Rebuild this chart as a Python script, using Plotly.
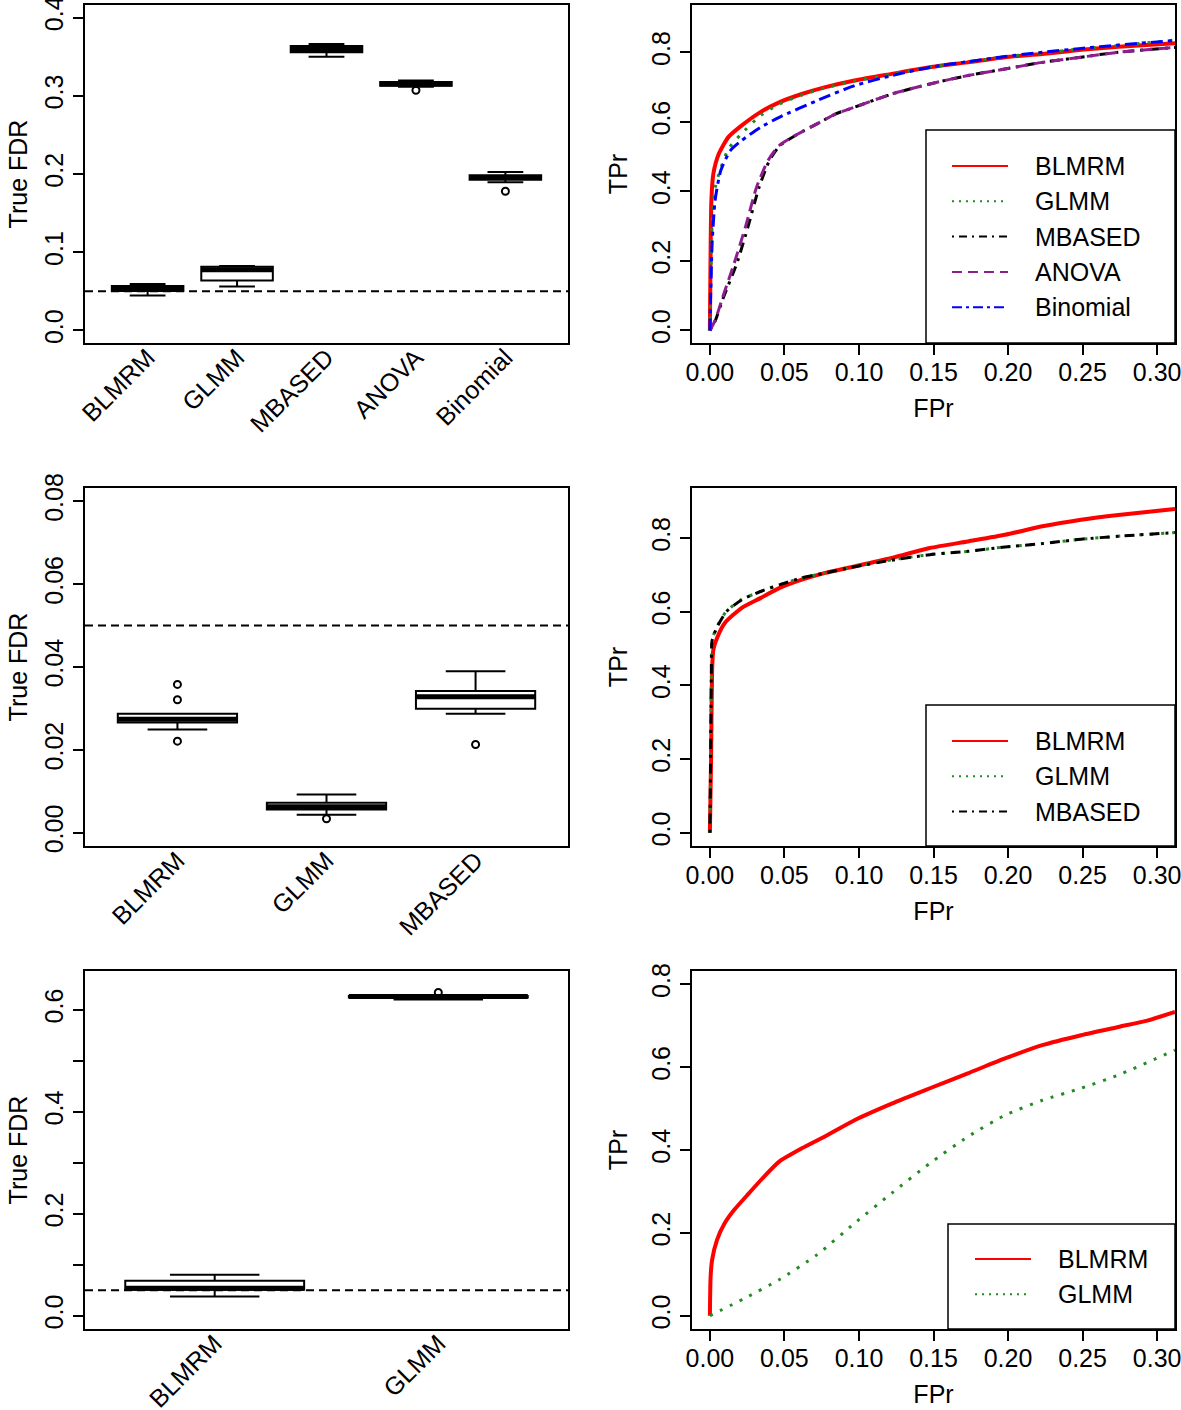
import plotly.graph_objects as go

W, H = 1181, 1410
FONT = "Liberation Sans, Arial, Helvetica, sans-serif"

# ---------------- data: box plots (True FDR) ----------------
methods1 = ["BLMRM", "GLMM", "MBASED", "ANOVA", "Binomial"]
lower1 = [0.0448, 0.0563, 0.3500, 0.3115, 0.1893]
q1_1 = [0.0505, 0.0640, 0.3555, 0.3128, 0.1925]
med1 = [0.0535, 0.0775, 0.3590, 0.3150, 0.1955]
q3_1 = [0.0570, 0.0815, 0.3635, 0.3175, 0.1985]
upper1 = [0.0595, 0.0825, 0.3660, 0.3195, 0.2026]
out1_m = ["ANOVA", "Binomial"]
out1_v = [0.307, 0.178]

methods2 = ["BLMRM", "GLMM", "MBASED"]
lower2 = [0.0249, 0.00434, 0.0287]
q1_2 = [0.0266, 0.00562, 0.0299]
med2 = [0.0274, 0.0063, 0.0328]
q3_2 = [0.0287, 0.00723, 0.0342]
upper2 = [0.0287, 0.00924, 0.0390]
out2_m = ["BLMRM", "BLMRM", "BLMRM", "GLMM", "MBASED"]
out2_v = [0.0358, 0.0321, 0.0221, 0.00337, 0.0213]

methods3 = ["BLMRM", "GLMM"]
lower3 = [0.0378, 0.620]
q1_3 = [0.0509, 0.624]
med3 = [0.0540, 0.626]
q3_3 = [0.0685, 0.627]
upper3 = [0.0802, 0.628]
out3_m = ["GLMM"]
out3_v = [0.634]

nominal_fdr = 0.05

# ---------------- data: ROC curves ----------------
# scenario 1
r1_blmrm_x = [0, 0.0003, 0.0010, 0.0023, 0.006, 0.0124, 0.0212, 0.0339, 0.0465, 0.0617, 0.0768, 0.097, 0.122, 0.1476, 0.173, 0.198, 0.223, 0.249, 0.274, 0.312]
r1_blmrm_y = [0, 0.15, 0.374, 0.450, 0.508, 0.556, 0.589, 0.628, 0.656, 0.680, 0.699, 0.719, 0.738, 0.757, 0.771, 0.786, 0.795, 0.807, 0.816, 0.826]
r1_glmm_x = [0, 0.0005, 0.0015, 0.003, 0.006, 0.0124, 0.021, 0.034, 0.0465, 0.0617, 0.0768, 0.097, 0.122, 0.1476, 0.173, 0.198, 0.223, 0.249, 0.274, 0.312]
r1_glmm_y = [0, 0.12, 0.30, 0.40, 0.45, 0.522, 0.565, 0.618, 0.651, 0.677, 0.697, 0.717, 0.737, 0.757, 0.772, 0.787, 0.798, 0.810, 0.820, 0.835]
r1_mbased_x = [0, 0.0035, 0.0090, 0.018, 0.0255, 0.0330, 0.0400, 0.0470, 0.059, 0.0718, 0.0844, 0.097, 0.122, 0.1476, 0.173, 0.198, 0.223, 0.249, 0.274, 0.312]
r1_mbased_y = [0, 0.027, 0.094, 0.192, 0.297, 0.412, 0.489, 0.532, 0.565, 0.594, 0.623, 0.642, 0.680, 0.709, 0.733, 0.752, 0.771, 0.786, 0.800, 0.814]
r1_anova_x = [0, 0.0035, 0.0086, 0.0162, 0.0238, 0.0313, 0.0390, 0.0465, 0.059, 0.0718, 0.0844, 0.097, 0.122, 0.1476, 0.173, 0.198, 0.223, 0.249, 0.274, 0.312]
r1_anova_y = [0, 0.029, 0.096, 0.192, 0.297, 0.412, 0.489, 0.532, 0.565, 0.594, 0.623, 0.642, 0.680, 0.709, 0.733, 0.752, 0.771, 0.786, 0.800, 0.814]
r1_binom_x = [0, 0.0005, 0.0015, 0.0035, 0.0073, 0.0137, 0.0212, 0.0339, 0.0465, 0.0718, 0.097, 0.122, 0.1476, 0.173, 0.198, 0.223, 0.249, 0.274, 0.312]
r1_binom_y = [0, 0.10, 0.25, 0.374, 0.46, 0.517, 0.546, 0.584, 0.613, 0.661, 0.704, 0.733, 0.757, 0.773, 0.788, 0.800, 0.811, 0.821, 0.834]

# scenario 2
r2_blmrm_x = [0, 0.0008, 0.0015, 0.0023, 0.0048, 0.0099, 0.0212, 0.0339, 0.0465, 0.0617, 0.0768, 0.097, 0.122, 0.1476, 0.173, 0.198, 0.223, 0.249, 0.274, 0.312]
r2_blmrm_y = [0, 0.20, 0.443, 0.497, 0.529, 0.569, 0.610, 0.637, 0.664, 0.687, 0.705, 0.723, 0.746, 0.773, 0.791, 0.809, 0.832, 0.850, 0.863, 0.879]
r2_glmm_x = [0, 0.0005, 0.0010, 0.0015, 0.0048, 0.011, 0.0212, 0.0339, 0.0465, 0.0617, 0.0768, 0.097, 0.122, 0.1476, 0.173, 0.198, 0.223, 0.249, 0.274, 0.312]
r2_glmm_y = [0, 0.20, 0.443, 0.524, 0.560, 0.601, 0.633, 0.655, 0.673, 0.692, 0.705, 0.723, 0.741, 0.755, 0.764, 0.776, 0.785, 0.797, 0.805, 0.815]
r2_mbased_x = [0, 0.0005, 0.0010, 0.0015, 0.0048, 0.011, 0.0212, 0.0339, 0.0465, 0.0617, 0.0768, 0.097, 0.122, 0.1476, 0.173, 0.198, 0.223, 0.249, 0.274, 0.312]
r2_mbased_y = [0, 0.20, 0.443, 0.522, 0.558, 0.600, 0.632, 0.655, 0.673, 0.692, 0.705, 0.722, 0.740, 0.755, 0.764, 0.776, 0.785, 0.797, 0.805, 0.815]

# scenario 3
r3_blmrm_x = [0, 0.0005, 0.0015, 0.0048, 0.0099, 0.0162, 0.0263, 0.0364, 0.0465, 0.0617, 0.0768, 0.097, 0.122, 0.1476, 0.173, 0.198, 0.223, 0.249, 0.274, 0.294, 0.312]
r3_blmrm_y = [0, 0.095, 0.135, 0.183, 0.223, 0.255, 0.296, 0.336, 0.372, 0.404, 0.432, 0.472, 0.512, 0.549, 0.585, 0.621, 0.653, 0.677, 0.697, 0.713, 0.733]
r3_glmm_x = [0, 0.0238, 0.0465, 0.0718, 0.097, 0.122, 0.1476, 0.173, 0.198, 0.223, 0.249, 0.274, 0.312]
r3_glmm_y = [0, 0.043, 0.087, 0.147, 0.223, 0.296, 0.368, 0.432, 0.484, 0.520, 0.549, 0.581, 0.641]

fpr_ticks = [0, 0.05, 0.10, 0.15, 0.20, 0.25, 0.30]
tpr_ticks = [0, 0.2, 0.4, 0.6, 0.8]

# ---------------- styles ----------------
STY = {
    "BLMRM": dict(color="#FF0000", dash="solid", width=4),
    "GLMM": dict(color="#228B22", dash="3px,8px", width=3),
    "MBASED": dict(color="#000000", dash="3px,6px,10px,6px", width=3),
    "ANOVA": dict(color="#8E1E8E", dash="12px,6px", width=3),
    "Binomial": dict(color="#0000FF", dash="12px,5px,4px,5px", width=3),
}
LEG_DASH = {
    "BLMRM": "solid", "GLMM": "2px,5px", "MBASED": "2px,5px,8px,5px",
    "ANOVA": "10px,6px", "Binomial": "10px,4px,3px,4px",
}

# panel geometry (pixels in the 1181x1410 page)
colx = [(85, 568), (692, 1175)]
rowy = [(5, 343), (488, 846), (971, 1329)]
# manual legend boxes (left px, top px, sample x0, sample x1, text x, first row y, row step)
leg_geom = [(926, 130, 952, 1008, 1033, 166, 35.3),
            (926, 705, 952, 1008, 1033, 741, 35.3),
            (948, 1224, 975, 1031, 1056, 1259, 35.3)]


def px(xp):
    return xp / W


def py(yp):
    return 1 - yp / H


def xd(c):
    return [px(colx[c][0]), px(colx[c][1])]


def yd(r):
    return [py(rowy[r][1]), py(rowy[r][0])]


fig = go.Figure()

box_sets = [
    (methods1, lower1, q1_1, med1, q3_1, upper1, out1_m, out1_v),
    (methods2, lower2, q1_2, med2, q3_2, upper2, out2_m, out2_v),
    (methods3, lower3, q1_3, med3, q3_3, upper3, out3_m, out3_v),
]

axis_common = dict(
    showline=True, mirror=True, linecolor="black", linewidth=2,
    ticks="outside", ticklen=10, tickwidth=2, tickcolor="black",
    showgrid=False, zeroline=False, automargin=False, ticklabeloverflow="allow",
    tickfont=dict(family=FONT, size=25, color="black"),
    title_font=dict(family=FONT, size=25, color="black"),
)

layout = dict(
    width=W, height=H, margin=dict(l=0, r=0, t=0, b=0, autoexpand=False),
    paper_bgcolor="white", plot_bgcolor="white",
    font=dict(family=FONT, size=25, color="black"),
    shapes=[], annotations=[], showlegend=False,
)

ybox_ranges = [[-0.016, 0.416], [-0.0032, 0.0832], [-0.026, 0.676]]
ybox_ticks = [
    ([0, 0.1, 0.2, 0.3, 0.4], ["0.0", "0.1", "0.2", "0.3", "0.4"]),
    ([0, 0.02, 0.04, 0.06, 0.08], ["0.00", "0.02", "0.04", "0.06", "0.08"]),
    ([0, 0.1, 0.2, 0.3, 0.4, 0.5, 0.6], ["0.0", "", "0.2", "", "0.4", "", "0.6"]),
]

for r, (mth, lo, q1, md, q3, up, om, ov) in enumerate(box_sets):
    n = len(mth)
    pos = list(range(1, n + 1))
    ax = 2 * r + 1
    xa, ya = ("x" if ax == 1 else f"x{ax}"), ("y" if ax == 1 else f"y{ax}")
    fig.add_trace(go.Box(
        x=pos, q1=q1, median=md, q3=q3, lowerfence=lo, upperfence=up,
        width=0.8, whiskerwidth=0.5, boxpoints=False,
        line=dict(color="black", width=2), fillcolor="white",
        showlegend=False, hoverinfo="skip", xaxis=xa, yaxis=ya,
    ))
    mx, my = [], []
    for p, m in zip(pos, md):
        mx += [p - 0.4, p + 0.4, None]
        my += [m, m, None]
    fig.add_trace(go.Scatter(x=mx, y=my, mode="lines", line=dict(color="black", width=5),
                             showlegend=False, hoverinfo="skip", xaxis=xa, yaxis=ya))
    fig.add_trace(go.Scatter(
        x=[mth.index(m) + 1 for m in om], y=ov, mode="markers",
        marker=dict(symbol="circle-open", size=7, color="black", line=dict(width=2)),
        showlegend=False, hoverinfo="skip", xaxis=xa, yaxis=ya))
    layout["shapes"].append(dict(
        type="line", xref=f"{xa} domain", yref=ya, x0=0, x1=1, y0=nominal_fdr, y1=nominal_fdr,
        line=dict(color="black", width=2, dash="8px,5px")))
    kx = "xaxis" if ax == 1 else f"xaxis{ax}"
    ky = "yaxis" if ax == 1 else f"yaxis{ax}"
    layout[kx] = dict(axis_common, domain=xd(0), anchor=ya, range=[0.5 - 0.04 * n, n + 0.5 + 0.04 * n],
                      tickmode="array", tickvals=pos, ticktext=mth, ticks="", tickangle=-45,
                      ticklabelstandoff=-12)
    layout[ky] = dict(axis_common, domain=yd(r), anchor=xa, range=ybox_ranges[r],
                      tickmode="array", tickvals=ybox_ticks[r][0], ticktext=ybox_ticks[r][1],
                      tickangle=-90, title=dict(text="True FDR", standoff=5))

roc_sets = [
    [("BLMRM", r1_blmrm_x, r1_blmrm_y), ("GLMM", r1_glmm_x, r1_glmm_y), ("MBASED", r1_mbased_x, r1_mbased_y),
     ("ANOVA", r1_anova_x, r1_anova_y), ("Binomial", r1_binom_x, r1_binom_y)],
    [("BLMRM", r2_blmrm_x, r2_blmrm_y), ("GLMM", r2_glmm_x, r2_glmm_y), ("MBASED", r2_mbased_x, r2_mbased_y)],
    [("BLMRM", r3_blmrm_x, r3_blmrm_y), ("GLMM", r3_glmm_x, r3_glmm_y)],
]
yroc_ranges = [[-0.036, 0.936], [-0.036, 0.936], [-0.032, 0.832]]

for r, curves in enumerate(roc_sets):
    ax = 2 * r + 2
    xa, ya = f"x{ax}", f"y{ax}"
    for name, xs, ys in curves:
        s = STY[name]
        fig.add_trace(go.Scatter(
            x=xs, y=ys, mode="lines", name=name,
            line=dict(color=s["color"], dash=s["dash"], width=s["width"], shape="spline", smoothing=0.6),
            xaxis=xa, yaxis=ya, hoverinfo="skip"))
    layout[f"xaxis{ax}"] = dict(axis_common, domain=xd(1), anchor=ya, range=[-0.012, 0.312],
                                tickmode="array", tickvals=fpr_ticks, ticktext=[f"{v:.2f}" for v in fpr_ticks],
                                ticklabelstandoff=-4, title=dict(text="FPr", standoff=14))
    layout[f"yaxis{ax}"] = dict(axis_common, domain=yd(r), anchor=xa, range=yroc_ranges[r],
                                tickmode="array", tickvals=tpr_ticks, ticktext=[f"{v:.1f}" for v in tpr_ticks],
                                tickangle=-90, title=dict(text="TPr", standoff=12))

    # legend (R-style box at bottom-right of the panel)
    lx, ltop, sx0, sx1, tx, ey0, estep = leg_geom[r]
    layout["shapes"].append(dict(
        type="rect", xref="paper", yref="paper", x0=px(lx), x1=px(colx[1][1]),
        y0=py(rowy[r][1]), y1=py(ltop), fillcolor="white", line=dict(color="black", width=1.5),
        layer="above"))
    for i, (name, _, _) in enumerate(curves):
        yy = py(ey0 + i * estep)
        s = STY[name]
        layout["shapes"].append(dict(
            type="line", xref="paper", yref="paper", x0=px(sx0), x1=px(sx1), y0=yy, y1=yy,
            line=dict(color=s["color"], width=2, dash=LEG_DASH[name]), layer="above"))
        layout["annotations"].append(dict(
            text=name, xref="paper", yref="paper", x=px(tx), y=yy, xanchor="left", yanchor="middle",
            showarrow=False, font=dict(family=FONT, size=25, color="black")))

fig.update_layout(**layout)
fig.write_html("out.html",
               config={"displayModeBar": False},
               post_script="document.body.style.margin='0';document.body.style.padding='0';"
                           "document.body.style.overflow='hidden';")
